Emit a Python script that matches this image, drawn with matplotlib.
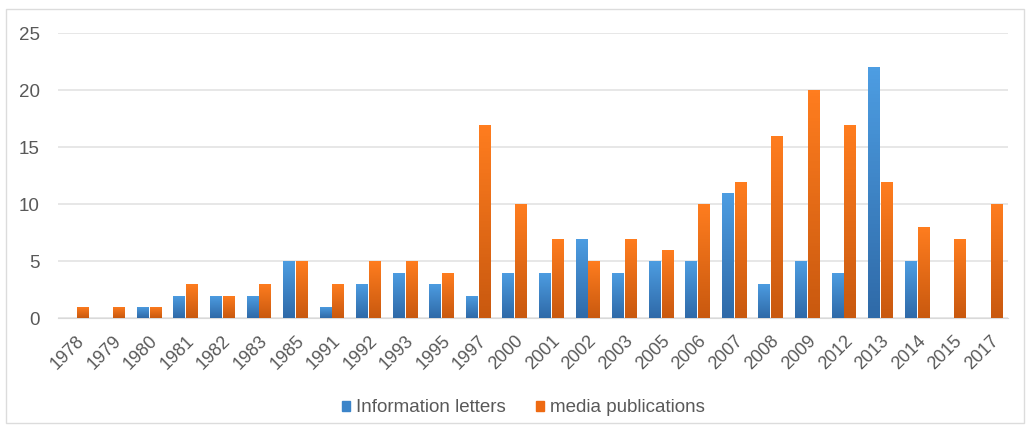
import numpy as np
import matplotlib
matplotlib.use("Agg")
from matplotlib import pyplot as plt
from matplotlib.colors import LinearSegmentedColormap
from matplotlib.patches import Rectangle

years = ["1978", "1979", "1980", "1981", "1982", "1983", "1985", "1991", "1992",
         "1993", "1995", "1997", "2000", "2001", "2002", "2003", "2005", "2006",
         "2007", "2008", "2009", "2012", "2013", "2014", "2015", "2017"]
letters = [0, 0, 1, 2, 2, 2, 5, 1, 3, 4, 3, 2, 4, 4, 7, 4, 5, 5, 11, 3, 5, 4, 22, 5, 0, 0]
media = [1, 1, 1, 3, 2, 3, 5, 3, 5, 5, 4, 17, 10, 7, 5, 7, 6, 10, 12, 16, 20, 17, 12, 8, 7, 10]

plt.rcParams["font.family"] = ["Liberation Sans", "DejaVu Sans"]

fig = plt.figure(figsize=(10.30, 4.32), dpi=100)
ax = fig.add_axes([0.056, 0.263, 0.923, 0.66])

blue_cm = LinearSegmentedColormap.from_list("b", ["#2f6aa8", "#4d9de2"])
orange_cm = LinearSegmentedColormap.from_list("o", ["#c9590f", "#ff7d1f"])
grad = np.linspace(0, 1, 64).reshape(-1, 1)

x = np.arange(len(years))
w = 0.32
gap = 0.03


def gradient_bars(xs, vals, cmap):
    bars = ax.bar(xs, vals, width=w, color="none", edgecolor="none", zorder=3)
    for b in bars:
        h = b.get_height()
        if h <= 0:
            continue
        x0 = b.get_x()
        im = ax.imshow(grad, cmap=cmap, origin="lower", aspect="auto",
                       extent=[x0, x0 + w, 0, h], zorder=3)
        im.set_clip_path(b)
    return bars


b1 = gradient_bars(x - w / 2 - gap / 2, letters, blue_cm)
b2 = gradient_bars(x + w / 2 + gap / 2, media, orange_cm)

ax.set_xlim(-0.5, len(years) - 0.5)
ax.set_ylim(0, 25)
ax.set_yticks([0, 5, 10, 15, 20, 25])
ax.yaxis.grid(True, color="#e3e3e3", linewidth=1.2, zorder=0)
ax.set_axisbelow(True)
for s in ["top", "right", "left"]:
    ax.spines[s].set_visible(False)
ax.spines["bottom"].set_color("#d9d9d9")
ax.tick_params(axis="both", length=0, colors="#595959")
ax.tick_params(axis="y", labelsize=13.5, pad=13)
ax.set_xticks(x)
ax.set_xticklabels(years, rotation=45, ha="right", rotation_mode="anchor",
                   fontsize=13)
ax.tick_params(axis="x", pad=10)

handles = [Rectangle((0, 0), 1, 1, color="#3b84c9"),
           Rectangle((0, 0), 1, 1, color="#ee6a12")]
fig.legend(handles, ["Information letters", "media publications"],
           loc="center", bbox_to_anchor=(0.508, 0.056), ncol=2, frameon=False,
           fontsize=13.5, handlelength=0.45, handleheight=0.45, handletextpad=0.3,
           columnspacing=1.6, labelcolor="#595959")

border = Rectangle((0.006, 0.02), 0.988, 0.96, transform=fig.transFigure,
                   fill=False, edgecolor="#dcdcdc", linewidth=1)
fig.patches.append(border)

fig.savefig("out.png", dpi=100)
